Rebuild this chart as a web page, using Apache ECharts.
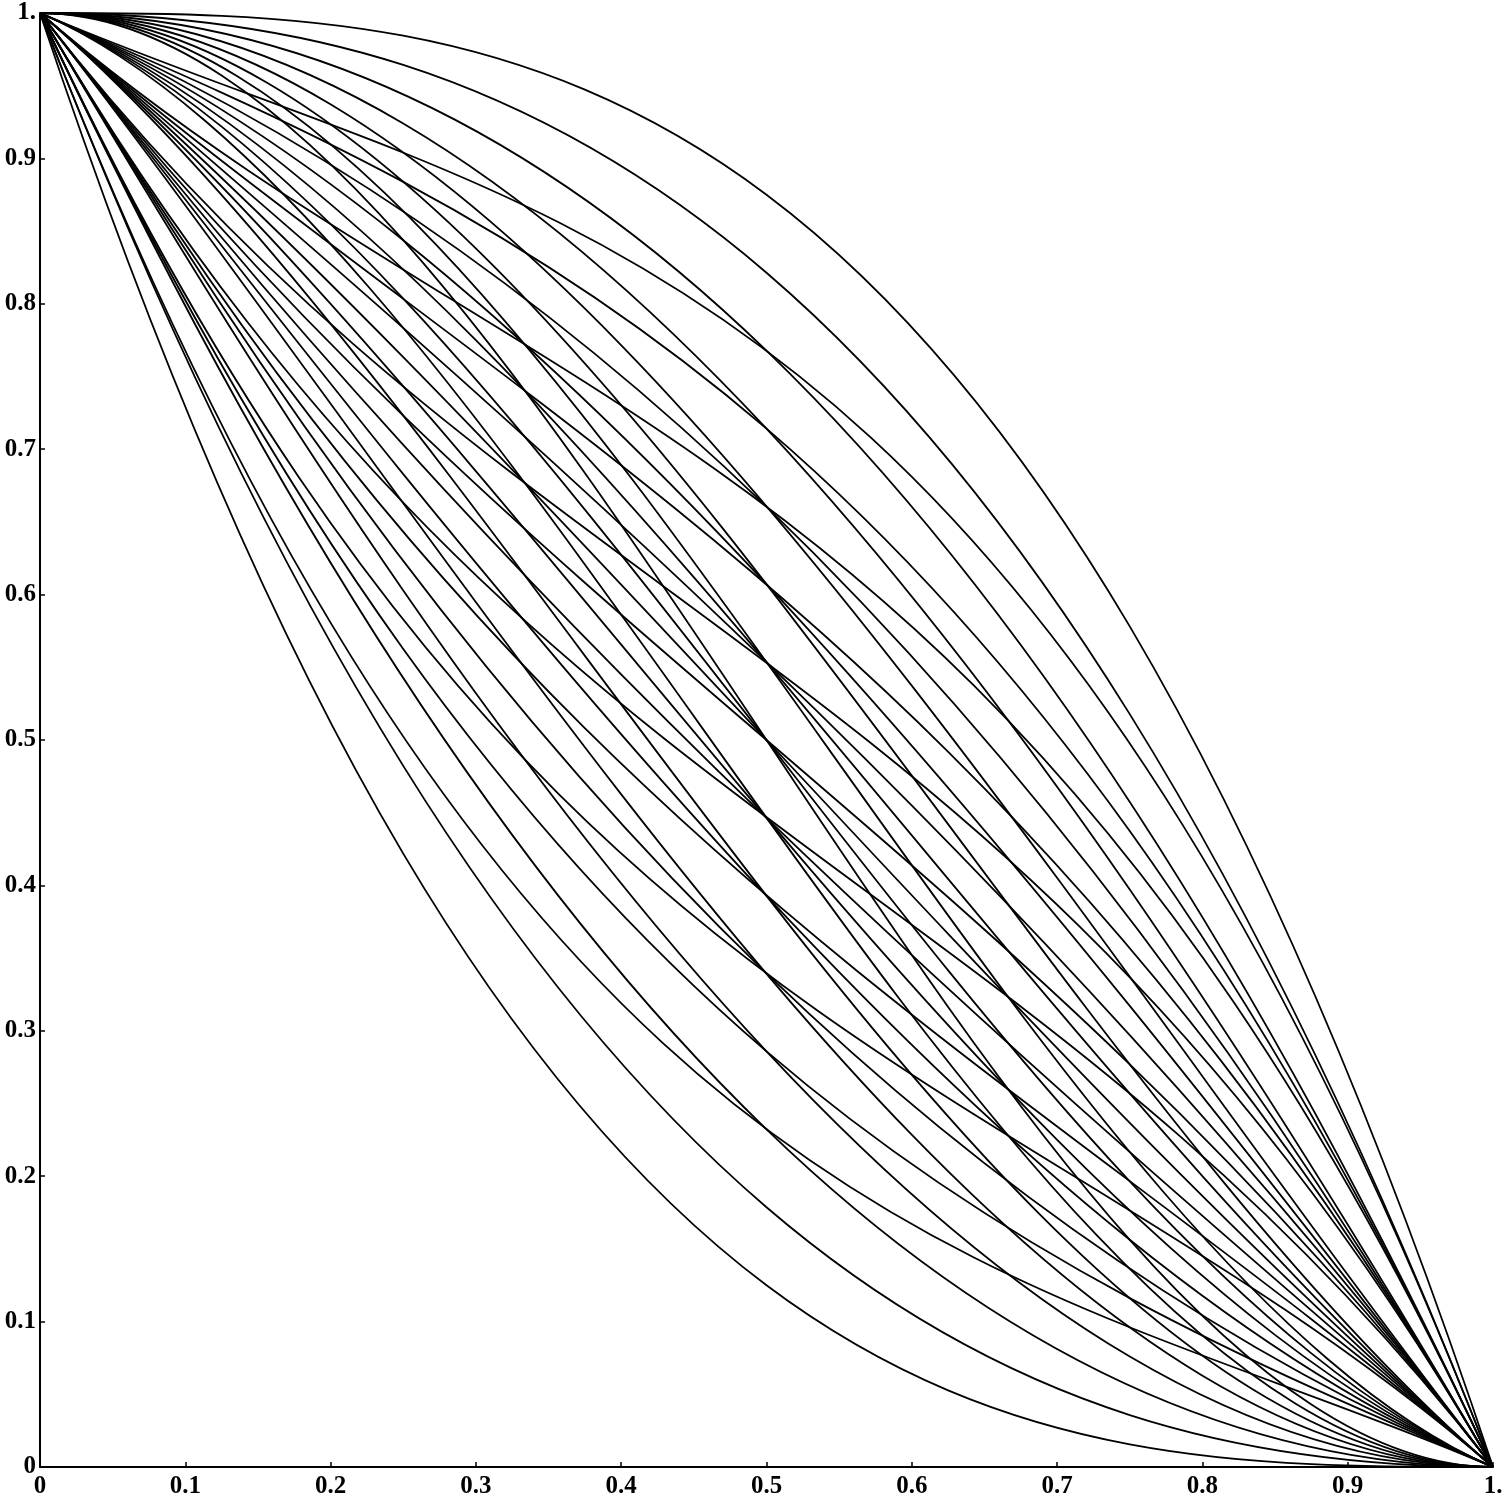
<!DOCTYPE html>
<html>
<head>
<meta charset="utf-8">
<title>Bezier family</title>
<script src="https://cdn.jsdelivr.net/npm/echarts@6/dist/echarts.min.js"></script>
<style>
  html, body { margin: 0; padding: 0; background: #fff; }
  #chart { width: 1508px; height: 1499px; }
</style>
</head>
<body>
<div id="chart"></div>
<script>
// every curve runs from (0, 1) to (1, 0)
const startPoint = [0, 1]
const endPoint = [1, 0]
// x of the two inner control points
const handleX = [1 / 3, 2 / 3]
// heights of the first / second inner control point
const startHandleY = [0, 0.143, 0.286, 0.429, 0.571, 0.714, 0.857, 1]
const endHandleY = [0, 0.143, 0.286, 0.429, 0.571, 0.714, 0.857, 1]
const tickValues = [0, 0.1, 0.2, 0.3, 0.4, 0.5, 0.6, 0.7, 0.8, 0.9, 1]

// only pairs whose end handle is not above the start handle are drawn
const curves = []
startHandleY.forEach((a, i) => {
  endHandleY.forEach((b, j) => {
    if (j <= i) curves.push([a, b])
  })
})

function tickLabel(v) {
  const r = Math.round(v * 10) / 10
  if (r === 0) return '0'
  if (r === 1) return '1.'
  return r.toFixed(1)
}

const labelStyle = {
  fontFamily: 'Liberation Serif',
  fontWeight: 'bold',
  fontSize: 25,
  color: '#000',
  formatter: tickLabel,
  showMinLabel: true,
  showMaxLabel: true
}

const chart = echarts.init(document.getElementById('chart'), null, { renderer: 'canvas' })

chart.setOption({
  animation: false,
  backgroundColor: '#fff',
  grid: {
    left: 40,
    right: 15,
    top: 13,
    bottom: 32,
    containLabel: false
  },
  xAxis: {
    type: 'value',
    min: tickValues[0],
    max: tickValues[tickValues.length - 1],
    interval: 0.1,
    axisLine: { show: true, lineStyle: { color: '#000', width: 2 } },
    axisTick: { show: true, inside: true, length: 5, lineStyle: { color: '#000', width: 1.5 } },
    splitLine: { show: false },
    axisLabel: Object.assign({ margin: 7 }, labelStyle)
  },
  yAxis: {
    type: 'value',
    min: tickValues[0],
    max: tickValues[tickValues.length - 1],
    interval: 0.1,
    axisLine: { show: true, lineStyle: { color: '#000', width: 2 } },
    axisTick: { show: true, inside: true, length: 5, lineStyle: { color: '#000', width: 1.5 } },
    splitLine: { show: false },
    axisLabel: Object.assign({ margin: 4 }, labelStyle)
  },
  series: [{
    type: 'custom',
    silent: true,
    data: curves,
    renderItem: function (params, api) {
      const p0 = api.coord(startPoint)
      const p1 = api.coord([handleX[0], api.value(0)])
      const p2 = api.coord([handleX[1], api.value(1)])
      const p3 = api.coord(endPoint)
      return {
        type: 'bezierCurve',
        shape: {
          x1: p0[0], y1: p0[1],
          cpx1: p1[0], cpy1: p1[1],
          cpx2: p2[0], cpy2: p2[1],
          x2: p3[0], y2: p3[1]
        },
        style: { stroke: '#000', lineWidth: 1.8, fill: 'none' }
      }
    }
  }]
})
</script>
</body>
</html>
